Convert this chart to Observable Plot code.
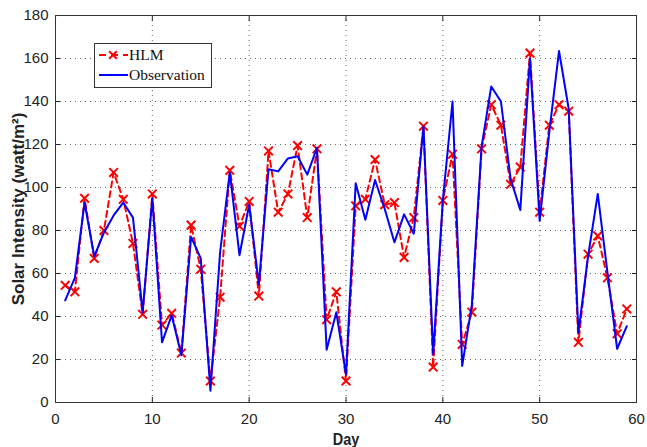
<!DOCTYPE html>
<html>
<head>
<meta charset="utf-8">
<script src="https://cdn.jsdelivr.net/npm/d3@7"></script>
<script src="https://cdn.jsdelivr.net/npm/@observablehq/plot@0.6"></script>
<style>
  html, body { margin: 0; padding: 0; background: #fff; }
  #wrap { position: relative; width: 647px; height: 447px; }
  #legend { position: absolute; left: 94px; top: 43px; }
</style>
</head>
<body>
<div id="wrap"></div>
<script>
const days = [1,2,3,4,5,6,7,8,9,10,11,12,13,14,15,16,17,18,19,20,21,22,23,24,25,26,27,28,29,30,
  31,32,33,34,35,36,37,38,39,40,41,42,43,44,45,46,47,48,49,50,51,52,53,54,55,56,57,58,59];
const hlm = [54.5,51.5,95,67,80,107,94.5,74,41,97,36,41.5,23,82.5,62,10,49,108,82,93.5,
  49.5,117,88.5,97,119.5,86,118,38.5,51.5,10,91.5,94.5,113,92,93,67.5,86,128.5,16.5,94,
  115.5,27,42,118,138.5,129,101.5,109.5,162.5,88.5,129,138.5,135.5,28,69,77.5,58,32,43.5];
const observation = [47.5,58,93,68,79,87,93,86,42,95,28,40.5,22,77,67,5.5,70,107,68.5,92,
  55,108.5,107.5,113.5,114.5,106,118.5,24.5,42,13,102,85,103.5,90,74.5,87.5,78.5,128.5,22.5,94,
  140,17,45.5,119,147,140,104,89.5,160,84.5,126,163.5,136.5,32.5,68,97,60.5,25,35.5];
const xTicks = [0,10,20,30,40,50,60];
const yTicks = [0,20,40,60,80,100,120,140,160,180];
const seriesNames = ["HLM", "Observation"];

const hlmData = days.map((d, i) => ({day: d, value: hlm[i]}));
const obsData = days.map((d, i) => ({day: d, value: observation[i]}));

const tickFont = "'Liberation Sans', Arial, sans-serif";

const chart = Plot.plot({
  width: 647,
  height: 447,
  marginLeft: 55,
  marginRight: 11,
  marginTop: 15,
  marginBottom: 45,
  style: {fontFamily: tickFont, fontSize: "15px", color: "#222", background: "#fff"},
  x: {domain: [0, 60]},
  y: {domain: [0, 180]},
  marks: [
    Plot.gridX(xTicks, {stroke: "#666", strokeOpacity: 1, strokeDasharray: "1,4"}),
    Plot.gridY(yTicks, {stroke: "#666", strokeOpacity: 1, strokeDasharray: "1,4"}),
    Plot.axisX(xTicks, {anchor: "bottom", tickSize: 0, tickPadding: 11, label: null, ariaLabel: "xticklabels"}),
    Plot.axisY(yTicks, {anchor: "left", tickSize: 0, tickPadding: 7, label: null, ariaLabel: "yticklabels"}),
    Plot.axisX(xTicks, {anchor: "bottom", tickSize: 0, tickFormat: () => "", label: "Day", labelAnchor: "center", labelOffset: 42, labelArrow: "none"}),
    Plot.axisY(yTicks, {anchor: "left", tickSize: 0, tickFormat: () => "", label: "Solar Intensity (watt/m²)", labelAnchor: "center", labelOffset: 44, labelArrow: "none"}),
    Plot.axisX(xTicks, {anchor: "bottom", tickSize: -5, tickFormat: () => "", label: null}),
    Plot.axisX(xTicks, {anchor: "top", tickSize: -5, tickFormat: () => "", label: null}),
    Plot.axisY(yTicks, {anchor: "left", tickSize: -5, tickFormat: () => "", label: null}),
    Plot.axisY(yTicks, {anchor: "right", tickSize: -5, tickFormat: () => "", label: null}),
    Plot.line(hlmData, {x: "day", y: "value", stroke: "#ff0000", strokeWidth: 2, strokeDasharray: "6,4"}),
    Plot.dot(hlmData, {x: "day", y: "value", symbol: "times", r: 4, stroke: "#ff0000", strokeWidth: 2}),
    Plot.line(obsData, {x: "day", y: "value", stroke: "#0000ff", strokeWidth: 2}),
    Plot.frame({stroke: "#333", strokeWidth: 1})
  ]
});

const svg = d3.select(chart);
svg.selectAll('[aria-label="x-axis label"] text, [aria-label="y-axis label"] text')
  .style("font-weight", "bold")
  .style("font-size", "17px");

// horizontally condense text around its anchor point
function condense(sel, k) {
  sel.each(function() {
    const el = d3.select(this);
    const x = +(el.attr("x") || 0), y = +(el.attr("y") || 0);
    const t = el.attr("transform") || "";
    el.attr("x", null).attr("y", null)
      .attr("transform", `${t} translate(${x},${y}) scale(${k},1)`);
  });
}
condense(svg.selectAll('[aria-label="xticklabels"] text, [aria-label="yticklabels"] text'), 0.78);
condense(svg.selectAll('[aria-label="x-axis label"] text'), 0.85);

const wrap = document.getElementById("wrap");
wrap.appendChild(chart);

// legend
const lg = d3.select(wrap).append("svg").attr("id", "legend")
  .attr("width", 118).attr("height", 45);
lg.append("rect").attr("x", 0.5).attr("y", 0.5).attr("width", 117).attr("height", 44)
  .attr("fill", "#fff").attr("stroke", "#333").attr("stroke-width", 1);
lg.append("line").attr("x1", 5).attr("x2", 34).attr("y1", 12).attr("y2", 12)
  .attr("stroke", "#ff0000").attr("stroke-width", 2).attr("stroke-dasharray", "7,5");
lg.append("path").attr("transform", "translate(19,12)")
  .attr("d", d3.symbol(d3.symbolTimes, 40)())
  .attr("fill", "none").attr("stroke", "#ff0000").attr("stroke-width", 2);
lg.append("line").attr("x1", 5).attr("x2", 34).attr("y1", 32).attr("y2", 32)
  .attr("stroke", "#0000ff").attr("stroke-width", 2);
lg.selectAll("text.lbl").data(seriesNames).join("text").attr("class", "lbl")
  .attr("x", 35).attr("y", (d, i) => 17 + i * 20)
  .attr("font-family", "'Liberation Serif', 'Times New Roman', serif")
  .attr("font-size", "15.5px").attr("fill", "#111")
  .text(d => d);
</script>
</body>
</html>
